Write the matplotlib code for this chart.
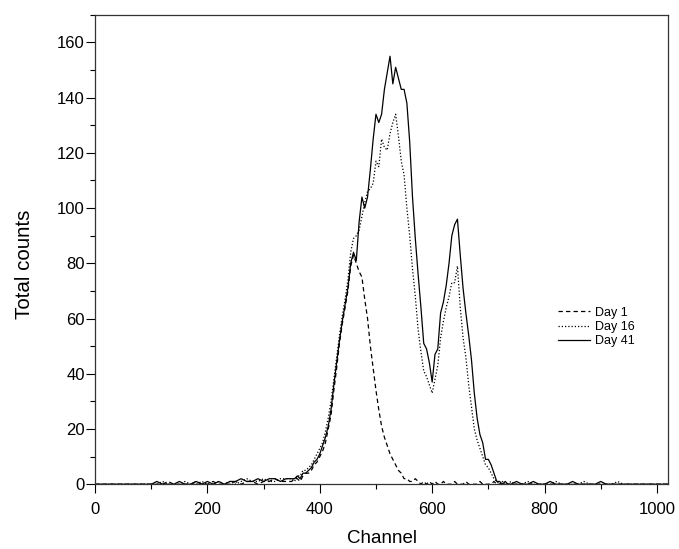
import matplotlib
matplotlib.use("Agg")
import matplotlib.pyplot as plt
from matplotlib.ticker import MultipleLocator

plt.rcParams['font.family'] = ['Liberation Sans', 'DejaVu Sans']

# channel grid (coarse baseline, finer across the peaks)
channels = (list(range(0, 350, 10)) + list(range(350, 740, 5)) + list(range(740, 1021, 10)))

day41_low = [0, 0, 0, 0, 0, 0, 0, 0, 0, 0, 0, 1, 0, 0, 0, 1, 0, 0, 1, 0,
             1, 0, 1, 0, 1, 1, 2, 1, 1, 2, 1, 2, 2, 1, 2]
day41_mid = [2, 2, 3, 2, 4, 4, 5, 6, 8, 9, 11, 14, 17, 21, 27, 36, 44, 52, 59, 65,
             71, 80, 84, 81, 95, 104, 100, 104, 114, 125, 134, 131, 134, 143, 149, 155, 145, 151, 147, 143,
             143, 138, 124, 104, 89, 76, 64, 51, 49, 44, 37, 47, 49, 62, 66, 72, 80, 90, 94, 96,
             83, 71, 62, 54, 45, 33, 24, 18, 15, 9, 9, 7, 4, 1, 1, 0, 1, 0]
day41_high = [0, 1, 0, 0, 1, 0, 0, 1, 0, 0, 0, 1, 0, 0, 0, 0, 1, 0, 0, 0,
              0, 0, 0, 0, 0, 0, 0, 0, 0]

day16_low = [0, 0, 0, 0, 0, 0, 0, 0, 0, 0, 0, 0, 1, 0, 0, 0, 1, 0, 0, 1,
             0, 0, 1, 0, 1, 0, 1, 2, 1, 1, 2, 1, 1, 2, 2]
day16_mid = [2, 1, 3, 3, 5, 5, 6, 7, 9, 11, 13, 15, 19, 24, 30, 38, 46, 54, 61, 67,
             74, 84, 89, 90, 92, 97, 102, 106, 107, 109, 117, 115, 125, 122, 121, 127, 131, 134, 126, 117,
             112, 100, 90, 78, 68, 56, 48, 41, 39, 36, 33, 38, 43, 53, 59, 64, 68, 73, 73, 79,
             64, 53, 46, 36, 28, 20, 16, 13, 10, 7, 6, 4, 2, 1, 0, 1, 0, 0]
day16_high = [1, 0, 0, 1, 0, 0, 0, 0, 1, 0, 0, 0, 0, 1, 0, 0, 0, 0, 0, 1,
              0, 0, 0, 0, 0, 0, 0, 0, 0]

day1_low = [0, 0, 0, 0, 0, 0, 0, 0, 0, 0, 0, 0, 0, 1, 0, 0, 0, 0, 1, 0,
            0, 1, 0, 0, 0, 1, 0, 1, 1, 0, 1, 1, 2, 1, 1]
day1_mid = [1, 2, 2, 1, 3, 4, 4, 5, 7, 8, 10, 12, 15, 20, 25, 34, 42, 51, 58, 64,
            70, 79, 83, 80, 77, 75, 67, 60, 50, 42, 34, 27, 21, 17, 14, 11, 9, 7, 5, 4,
            2, 2, 1, 1, 2, 1, 0, 1, 0, 1, 0, 1, 0, 0, 1, 0, 0, 0, 1, 0,
            0, 0, 1, 0, 0, 0, 0, 1, 0, 0, 0, 0, 1, 0, 0, 0, 0, 0]
day1_high = [0, 0, 0, 0, 0, 0, 0, 0, 0, 0, 0, 0, 0, 0, 0, 0, 0, 0, 0, 0,
             0, 0, 0, 0, 0, 0, 0, 0, 0]

day1 = day1_low + day1_mid + day1_high
day16 = day16_low + day16_mid + day16_high
day41 = day41_low + day41_mid + day41_high

labels = ["Day 1", "Day 16", "Day 41"]

fig = plt.figure(figsize=(6.79, 5.49), dpi=100)
ax = fig.add_axes([0.140, 0.118, 0.844, 0.855])

ax.plot(channels, day1, color='black', lw=0.9, linestyle=(0, (3.5, 2.5)), label=labels[0])
ax.plot(channels, day16, color='black', lw=0.9, linestyle=(0, (1, 1.6)), label=labels[1])
ax.plot(channels, day41, color='black', lw=0.9, linestyle='-', label=labels[2])

ax.set_xlim(0, 1020)
ax.set_ylim(0, 170)
ax.xaxis.set_major_locator(MultipleLocator(200))
ax.xaxis.set_minor_locator(MultipleLocator(100))
ax.yaxis.set_major_locator(MultipleLocator(20))
ax.yaxis.set_minor_locator(MultipleLocator(10))
ax.tick_params(which='major', direction='out', length=6.5, width=0.8, labelsize=12, colors='black')
ax.tick_params(which='minor', direction='out', length=3.6, width=0.8)
ax.tick_params(axis='x', which='major', pad=6.5)
ax.tick_params(axis='y', which='major', pad=1)
ax.tick_params(top=False, right=False)
for s in ax.spines.values():
    s.set_linewidth(0.9)
    s.set_color('#333333')

ax.set_xlabel("Channel", fontsize=13.5)
ax.set_ylabel("Total counts", fontsize=14.8)
ax.xaxis.set_label_coords(0.5, -0.098)
ax.yaxis.set_label_coords(-0.106, 0.469)

leg = ax.legend(loc='center left', bbox_to_anchor=(0.789, 0.335), frameon=False,
                fontsize=9, handlelength=2.5, handletextpad=0.4, labelspacing=0.19)

fig.savefig("out.png", dpi=100)
